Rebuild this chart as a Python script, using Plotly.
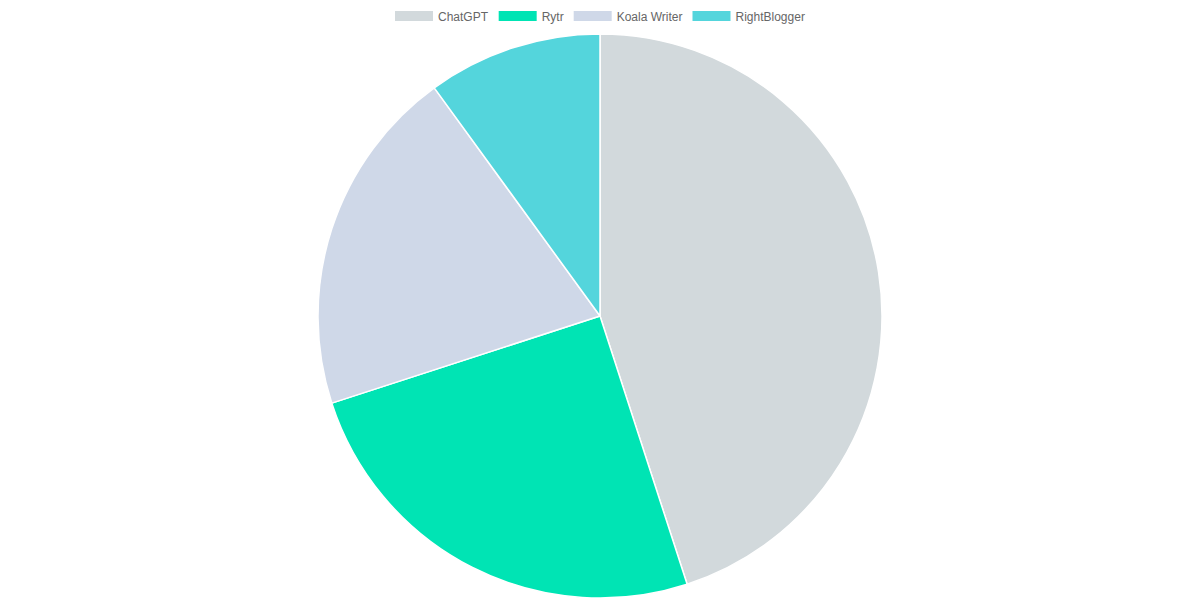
import plotly.graph_objects as go

labels = ["ChatGPT", "Rytr", "Koala Writer", "RightBlogger"]
values = [45, 25, 20, 10]
colors = ["#d2d9dc", "#00e4b4", "#cfd8e8", "#54d5dc"]

fig = go.Figure()
fig.add_trace(go.Pie(
    labels=labels, values=values, sort=False, direction="clockwise", rotation=0,
    marker=dict(colors=colors, line=dict(color="#ffffff", width=1.5)),
    textinfo="none", showlegend=False, domain=dict(x=[0, 1], y=[0, 1]),
))
for lab, col in zip(labels, colors):
    fig.add_trace(go.Scatter(x=[None], y=[None], mode="lines", name=lab,
                             line=dict(color=col, width=10), hoverinfo="skip"))

fig.update_layout(
    width=1200, height=600,
    margin=dict(l=0, r=0, t=34, b=2),
    paper_bgcolor="white", plot_bgcolor="white",
    xaxis=dict(visible=False), yaxis=dict(visible=False),
    font=dict(family="Liberation Sans, Arial, sans-serif", size=12, color="#666666"),
    legend=dict(orientation="h", x=0.5, xanchor="center", y=1.006, yanchor="bottom",
                itemwidth=38, font=dict(size=12, color="#666666"), tracegroupgap=0),
)
fig.write_html("out.html", config={"displayModeBar": False},
               post_script="document.body.style.margin='0';")
